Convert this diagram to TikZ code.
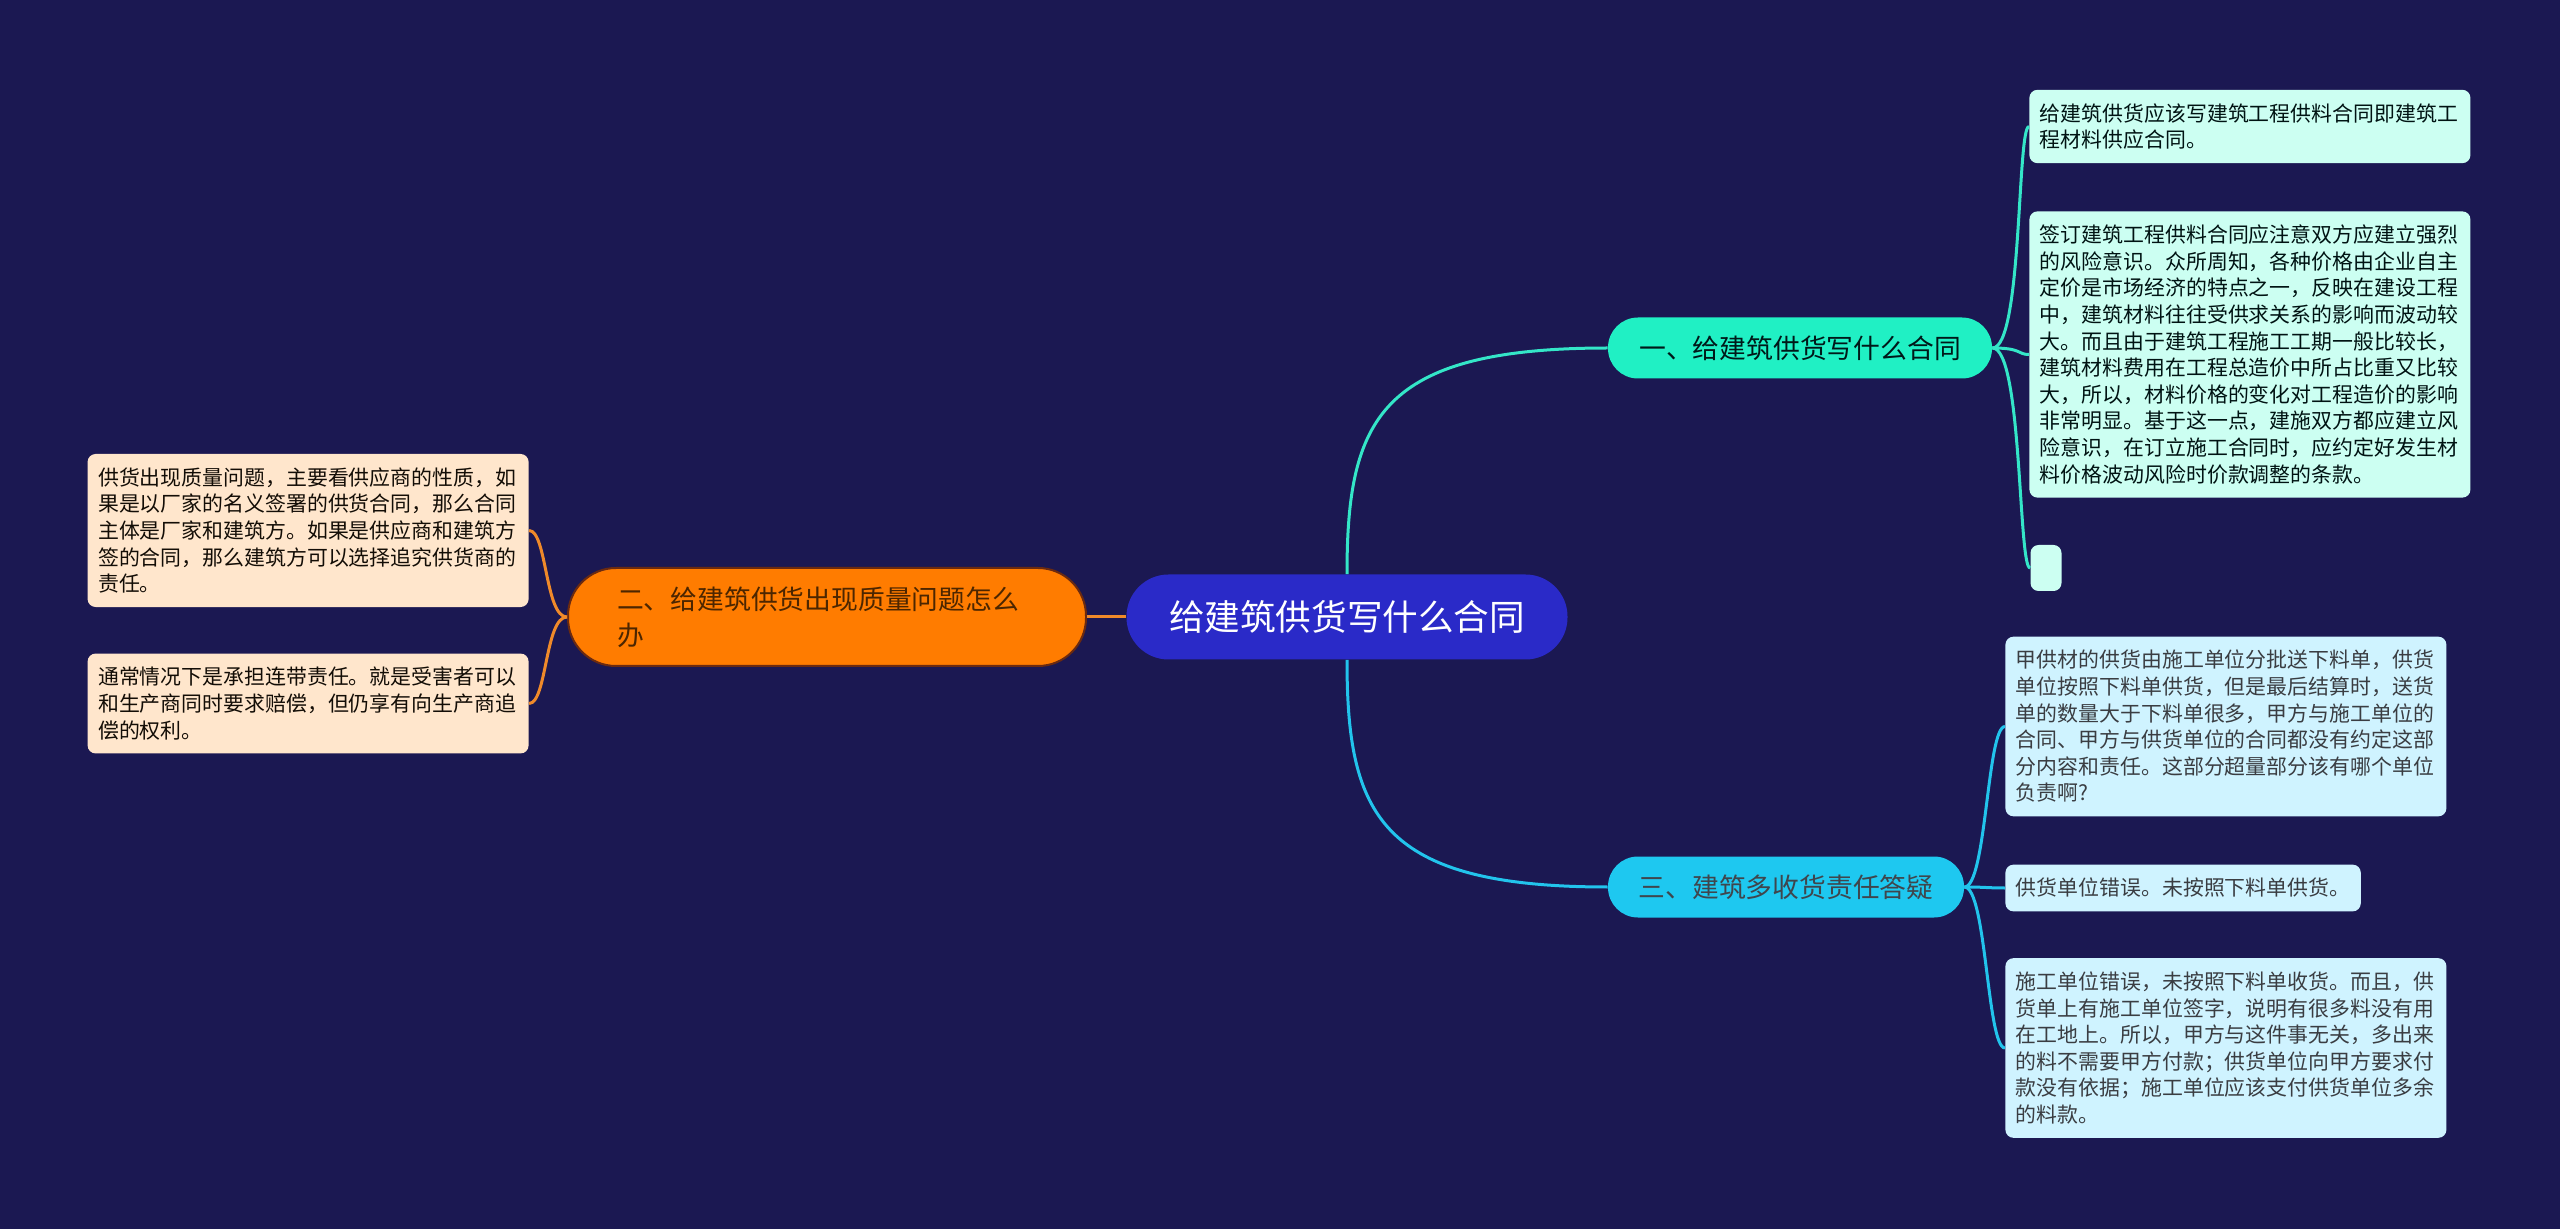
\documentclass[tikz,border=0pt]{standalone}
\usepackage{fontspec}
\newfontfamily\cjk{Noto Sans CJK SC}
\definecolor{bgnavy}{HTML}{1B1852}
\definecolor{topicblue}{HTML}{2A2AC8}
\definecolor{mintfill}{HTML}{20F0C4}
\definecolor{cyanfill}{HTML}{1EC8F0}
\definecolor{orangefill}{HTML}{FF7C00}
\definecolor{orangeedge}{HTML}{6B2A10}
\definecolor{mintnote}{HTML}{CCFFF2}
\definecolor{peachnote}{HTML}{FFE6CC}
\definecolor{cyannote}{HTML}{CFF3FF}
\definecolor{mintline}{HTML}{34E6C8}
\definecolor{cyanline}{HTML}{22C4EC}
\definecolor{orangeline}{HTML}{F08A2A}
\tikzset{topic/.style = {fill = topicblue, text = white, rounded corners = 21pt, minimum width = 220.5pt, minimum height = 42.5pt, font = \cjk\fontsize{17.8pt}{20pt}\selectfont}}
\tikzset{subtopic/.style = {rounded corners = 15pt, minimum height = 30.5pt, font = \cjk\fontsize{13.4pt}{18pt}\selectfont}}
\tikzset{note/.style = {rounded corners = 4pt, align = left, inner xsep = 5.25pt, inner ysep = 6.8pt, font = \cjk\fontsize{10.45pt}{13.3pt}\selectfont}}
\tikzset{wide/.style = {text width = 210pt}}
\tikzset{conn/.style = {line width = 1.5pt}}

\begin{document}
\begin{tikzpicture}[x = 0.5pt, y = -0.5pt]
	\fill[bgnavy] (0, 0) rectangle (2560, 1229);

	\node[topic] (root) at (1347, 617) {给建筑供货写什么合同};
	\node[subtopic, fill = mintfill, text = black!80!teal, minimum width = 192pt] (b1) at (1800, 348) {一、给建筑供货写什么合同};
	\node[subtopic, fill = orangefill, draw = orangeedge, line width = 1pt, text = black!70!orange, rounded corners = 24pt, align = left, text width = 210pt, inner xsep = 24.5pt, minimum height = 49pt] (b2) at (827, 617) {二、给建筑供货出现质量问题怎么\\办};
	\node[subtopic, fill = cyanfill, text = black!80!cyan, minimum width = 178pt] (b3) at (1786, 887) {三、建筑多收货责任答疑};

	\node[note, wide, fill = mintnote, text = black!85!teal, anchor = west] (l1a) at (2029, 126.5) {给建筑供货应该写建筑工程供料合同即建筑工\\程材料供应合同。};
	\node[note, wide, fill = mintnote, text = black!85!teal, anchor = west] (l1b) at (2029, 354.5) {签订建筑工程供料合同应注意双方应建立强烈\\的风险意识。众所周知，各种价格由企业自主\\定价是市场经济的特点之一，反映在建设工程\\中，建筑材料往往受供求关系的影响而波动较\\大。而且由于建筑工程施工工期一般比较长，\\建筑材料费用在工程总造价中所占比重又比较\\大，所以，材料价格的变化对工程造价的影响\\非常明显。基于这一点，建施双方都应建立风\\险意识，在订立施工合同时，应约定好发生材\\料价格波动风险时价款调整的条款。};
	\node[note, fill = mintnote, minimum width = 15.5pt, minimum height = 23pt, inner sep = 0pt] (l1c) at (2046, 568) {};

	\node[note, wide, fill = peachnote, text = black!90!brown, anchor = east] (l2a) at (529, 530.5) {供货出现质量问题，主要看供应商的性质，如\\果是以厂家的名义签署的供货合同，那么合同\\主体是厂家和建筑方。如果是供应商和建筑方\\签的合同，那么建筑方可以选择追究供货商的\\责任。};
	\node[note, wide, fill = peachnote, text = black!90!brown, anchor = east] (l2b) at (529, 703.5) {通常情况下是承担连带责任。就是受害者可以\\和生产商同时要求赔偿，但仍享有向生产商追\\偿的权利。};

	\node[note, wide, fill = cyannote, text = black!85!cyan, anchor = west] (l3a) at (2005, 726.5) {甲供材的供货由施工单位分批送下料单，供货\\单位按照下料单供货，但是最后结算时，送货\\单的数量大于下料单很多，甲方与施工单位的\\合同、甲方与供货单位的合同都没有约定这部\\分内容和责任。这部分超量部分该有哪个单位\\负责啊?};
	\node[note, fill = cyannote, text = black!85!cyan, anchor = west] (l3b) at (2005, 888) {供货单位错误。未按照下料单供货。};
	\node[note, wide, fill = cyannote, text = black!85!cyan, anchor = west] (l3c) at (2005, 1048) {施工单位错误，未按照下料单收货。而且，供\\货单上有施工单位签字，说明有很多料没有用\\在工地上。所以，甲方与这件事无关，多出来\\的料不需要甲方付款；供货单位向甲方要求付\\款没有依据；施工单位应该支付供货单位多余\\的料款。};

	\draw[conn, mintline] (root.north) .. controls +(0, -155) and +(-228, 0) .. (b1.west);
	\draw[conn, orangeline] (root.west) -- (b2.east);
	\draw[conn, cyanline] (root.south) .. controls +(0, 155) and +(-228, 0) .. (b3.west);

	\draw[conn, mintline] (b1.east) .. controls +(30, 0) and +(-12, 0) .. (l1a.west);
	\draw[conn, mintline] (b1.east) .. controls +(30, 0) and +(-12, 0) .. (l1b.west);
	\draw[conn, mintline] (b1.east) .. controls +(30, 0) and +(-12, 0) .. (l1c.west);

	\draw[conn, orangeline] (b2.west) .. controls +(-22, 0) and +(18, 0) .. (l2a.east);
	\draw[conn, orangeline] (b2.west) .. controls +(-22, 0) and +(18, 0) .. (l2b.east);

	\draw[conn, cyanline] (b3.east) .. controls +(22, 0) and +(-18, 0) .. (l3a.west);
	\draw[conn, cyanline] (b3.east) .. controls +(22, 0) and +(-18, 0) .. (l3b.west);
	\draw[conn, cyanline] (b3.east) .. controls +(22, 0) and +(-18, 0) .. (l3c.west);
\end{tikzpicture}
\end{document}
